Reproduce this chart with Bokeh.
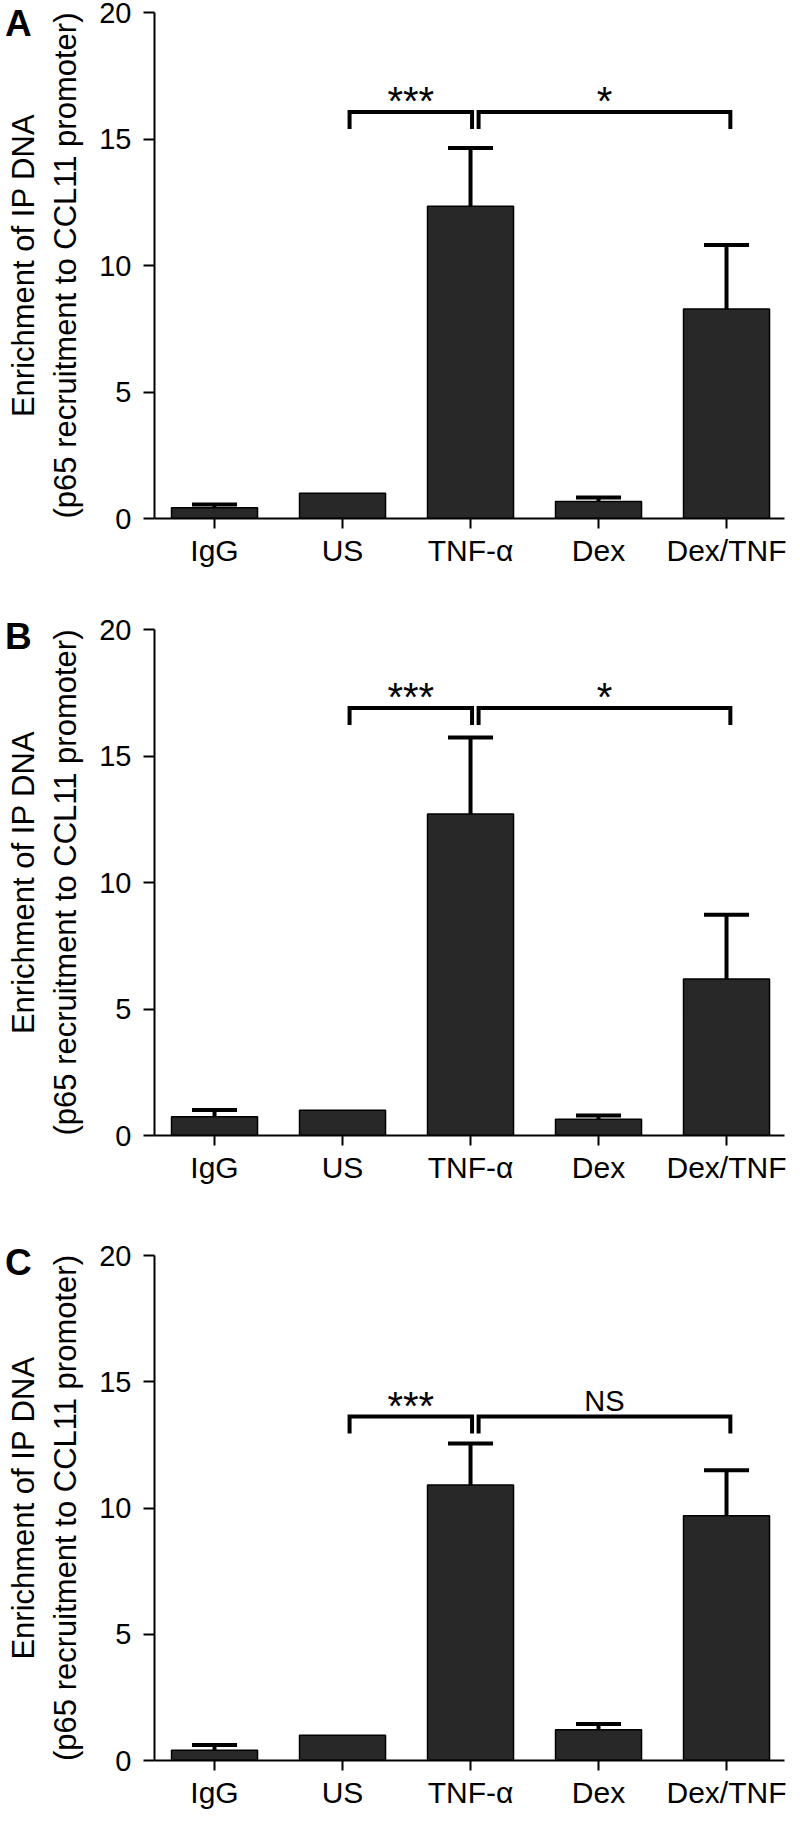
from bokeh.plotting import figure
from bokeh.models import Range1d, FixedTicker, GridBox, Div
from bokeh.layouts import column
from bokeh.embed import file_html
from bokeh.resources import INLINE
from bokeh.core.properties import value

# ---------------- data ----------------
categories = ["IgG", "US", "TNF-α", "Dex", "Dex/TNF"]
y_ticks = [0, 5, 10, 15, 20]

a_means = [0.42, 1.00, 12.34, 0.67, 8.28]
a_errors = [0.13, 0.00, 2.30, 0.16, 2.53]
b_means = [0.74, 1.00, 12.71, 0.64, 6.19]
b_errors = [0.27, 0.00, 3.02, 0.15, 2.54]
c_means = [0.41, 1.00, 10.91, 1.22, 9.69]
c_errors = [0.20, 0.00, 1.64, 0.23, 1.81]

comparisons = [("US", "TNF-α"), ("TNF-α", "Dex/TNF")]
a_signif = ["***", "*"]
b_signif = ["***", "*"]
c_signif = ["***", "NS"]
a_bracket = 16.07
b_bracket = 16.90
c_bracket = 13.62

panel_letters = ["A", "B", "C"]
y_label = "Enrichment of IP DNA\n(p65 recruitment to CCL11 promoter)"

# ---------------- styling / layout ----------------
FONT = "Liberation Sans"
BAR_FILL = "#282828"
X_START, X_END = -0.469, 4.453
FRAME_H = 506
PX_PER_UNIT = FRAME_H / 20.0


def make_letter(letter, top_border):
    pad = max(0, top_border - 16)
    html = ('<div style="font-family: \'Liberation Sans\', Arial, sans-serif; '
            'font-weight: bold; font-size: 37px; line-height: 37px; color: black; '
            'margin: 0; padding: %dpx 0 0 0;">%s</div>' % (pad, letter))
    return Div(text=html, width=36, height=pad + 42)


def make_main(means, errors, bracket_y, signif, height, top_border, bottom_border):
    p = figure(title=None, width=790, height=height, output_backend="svg",
               toolbar_location=None, x_range=Range1d(X_START, X_END), y_range=Range1d(0, 20),
               min_border_left=154, min_border_right=6, min_border_top=top_border,
               min_border_bottom=bottom_border)
    p.outline_line_color = None
    p.background_fill_color = "white"
    p.border_fill_color = "white"
    p.xgrid.grid_line_color = None
    p.ygrid.grid_line_color = None

    xs = list(range(len(categories)))
    idx = {c: i for i, c in enumerate(categories)}

    # error bars (upper only)
    ex, ey0, ey1 = [], [], []
    for x, m, e in zip(xs, means, errors):
        if e > 0:
            ex.append(x); ey0.append(m); ey1.append(m + e)
    cap = 0.176
    p.segment(x0=ex, y0=ey0, x1=ex, y1=ey1, line_color="black", line_width=4)
    p.segment(x0=[x - cap for x in ex], y0=ey1, x1=[x + cap for x in ex], y1=ey1,
              line_color="black", line_width=4)

    # bars
    p.vbar(x=xs, top=means, width=0.672, bottom=0, fill_color=BAR_FILL,
           line_color="black", line_width=1.5)

    # significance brackets
    drop = 17 / PX_PER_UNIT
    offs = [(0.055, 0.012), (0.063, 0.03)]
    for (c1, c2), lab, (o1, o2) in zip(comparisons, signif, offs):
        x1 = idx[c1] + o1
        x2 = idx[c2] + o2
        p.line(x=[x1, x1, x2, x2], y=[bracket_y - drop, bracket_y, bracket_y, bracket_y - drop],
               line_color="black", line_width=4, line_join="miter")
        if "*" in lab:
            ty = bracket_y + 11 / PX_PER_UNIT
            fs = "40px"
        else:
            ty = bracket_y + 16 / PX_PER_UNIT
            fs = "29px"
        p.text(x=[(x1 + x2) / 2], y=[ty], text=[lab], text_font=value(FONT),
               text_font_size=fs, text_align="center", text_baseline="alphabetic",
               text_color="black")

    # axes
    p.xaxis.ticker = FixedTicker(ticks=xs)
    p.xaxis.major_label_overrides = {i: c for i, c in enumerate(categories)}
    p.yaxis.ticker = FixedTicker(ticks=y_ticks)
    for ax in (p.xaxis, p.yaxis):
        ax.axis_line_width = 2
        ax.axis_line_color = "black"
        ax.major_tick_line_width = 2
        ax.major_tick_line_color = "black"
        ax.major_tick_in = 0
        ax.minor_tick_line_color = None
        ax.major_label_text_font = FONT
        ax.major_label_text_color = "black"
    p.xaxis.major_tick_out = 10
    p.xaxis.major_label_standoff = 5
    p.xaxis.major_label_text_font_size = "30px"
    p.yaxis.major_tick_out = 11
    p.yaxis.major_label_standoff = 12
    p.yaxis.major_label_text_font_size = "29px"
    p.yaxis.axis_label = y_label
    p.yaxis.axis_label_text_font = FONT
    p.yaxis.axis_label_text_font_size = "31px"
    p.yaxis.axis_label_text_font_style = "normal"
    p.yaxis.axis_label_text_color = "black"
    p.yaxis.axis_label_standoff = 13
    p.yaxis.axis_label_text_line_height = 1.2
    return p


def make_panel(letter, means, errors, bracket_y, signif, height, top_border, bottom_border):
    main = make_main(means, errors, bracket_y, signif, height, top_border, bottom_border)
    lett = make_letter(letter, top_border)
    return GridBox(children=[(main, 0, 0), (lett, 0, 0)])


pA = make_panel(panel_letters[0], a_means, a_errors, a_bracket, a_signif, 605, 12, 87)
pB = make_panel(panel_letters[1], b_means, b_errors, b_bracket, b_signif, 626, 24, 96)
pC = make_panel(panel_letters[2], c_means, c_errors, c_bracket, c_signif, 580, 24, 50)

layout = column(pA, pB, pC, spacing=0)
open("out.html", "w").write(file_html(layout, INLINE))
